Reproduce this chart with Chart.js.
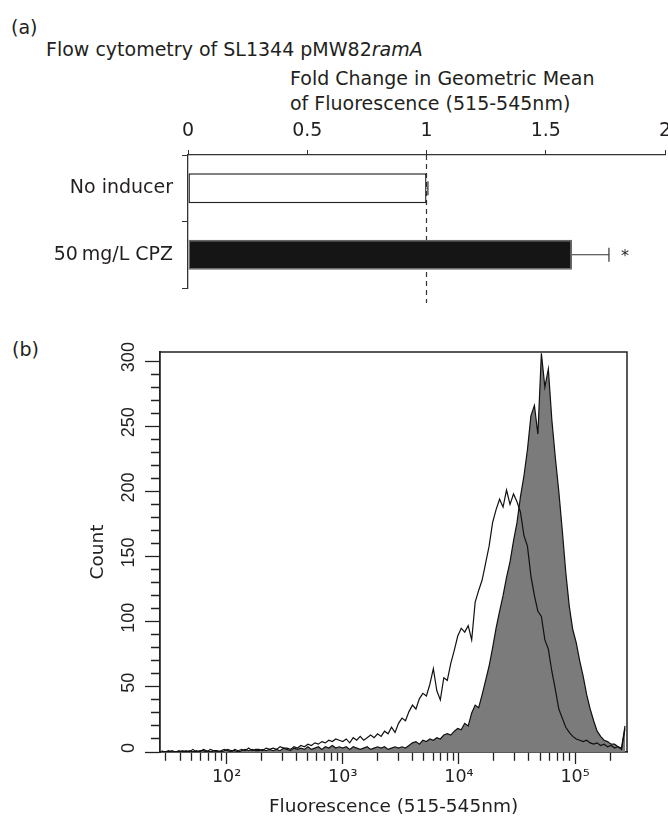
<!DOCTYPE html>
<html><head><meta charset="utf-8">
<script src="https://cdn.jsdelivr.net/npm/chart.js@4.4.1/dist/chart.umd.min.js"></script>
<style>
html,body{margin:0;padding:0;background:#fff;}
body{width:668px;height:821px;position:relative;overflow:hidden;font-family:"DejaVu Sans",sans-serif;color:#231f20;}
.t{position:absolute;white-space:nowrap;font-size:19px;line-height:19px;}
#ca{position:absolute;left:0;top:0;}
#cb{position:absolute;left:0;top:320px;}
</style></head>
<body>
<div class="t" style="left:11px;top:18px">(a)</div>
<div class="t" style="left:46px;top:40px">Flow cytometry of SL1344 pMW82<i>ramA</i></div>
<div class="t" style="left:290px;top:69px">Fold Change in Geometric Mean</div>
<div class="t" style="left:290px;top:94px">of Fluorescence (515-545nm)</div>
<div class="t" style="left:12px;top:340px">(b)</div>
<canvas id="ca" width="668" height="320"></canvas>
<canvas id="cb" width="668" height="501"></canvas>
<script>
// ---------- Panel (a) data ----------
const categories = ['No inducer', '50\u2009mg/L CPZ'];
const foldChange = [1.0, 1.61];
const foldError = [0.006, 0.155];
const significance = ['', '*'];
const referenceFold = 1;

// ---------- Panel (b) data ----------
const channelExp = [
  1.44,1.47,1.50,1.53,1.56,1.59,1.62,1.65,1.68,1.71,
  1.74,1.77,1.80,1.83,1.86,1.89,1.92,1.95,1.98,2.01,
  2.04,2.07,2.10,2.13,2.16,2.19,2.22,2.25,2.28,2.31,
  2.34,2.37,2.40,2.43,2.46,2.49,2.52,2.55,2.58,2.61,
  2.64,2.67,2.70,2.73,2.76,2.79,2.82,2.85,2.88,2.91,
  2.94,2.97,3.00,3.03,3.06,3.09,3.12,3.15,3.18,3.21,
  3.24,3.27,3.30,3.33,3.36,3.39,3.42,3.45,3.48,3.51,
  3.54,3.57,3.60,3.63,3.66,3.69,3.72,3.75,3.78,3.81,
  3.84,3.87,3.90,3.93,3.96,3.99,4.02,4.05,4.08,4.11,
  4.14,4.17,4.20,4.23,4.26,4.29,4.32,4.35,4.38,4.41,
  4.44,4.47,4.50,4.53,4.56,4.59,4.62,4.65,4.68,4.71,
  4.74,4.77,4.80,4.83,4.86,4.89,4.92,4.95,4.98,5.01,
  5.04,5.07,5.10,5.13,5.16,5.19,5.22,5.25,5.28,5.31,
  5.34,5.37,5.40,5.43
];
const countNoInducer = [
  0,0,1,0,0,1,0,1,0,2,
  0,1,1,0,2,1,0,1,2,1,
  0,2,1,2,1,3,1,2,2,1,
  3,2,3,2,4,3,3,2,4,3,
  5,4,6,5,7,6,8,7,9,8,
  10,9,8,10,7,11,9,12,9,11,
  13,11,14,12,16,14,19,15,22,26,
  24,31,36,33,41,45,43,52,64,47,
  40,57,55,68,78,89,95,92,97,86,
  115,124,132,145,158,176,186,194,188,201,
  190,198,192,184,166,158,135,120,108,104,
  86,79,62,48,33,26,19,15,12,10,
  9,8,9,7,6,7,5,6,4,5,
  3,4,2,18
];
const countCPZ = [
  1,0,0,1,0,0,1,0,1,0,
  1,0,2,1,0,1,1,0,1,2,
  1,1,0,1,2,1,2,1,1,2,
  1,2,1,2,1,3,2,1,3,2,
  3,2,4,2,3,4,2,4,3,5,
  3,4,3,4,2,4,3,2,3,4,
  2,3,4,3,4,2,3,4,3,4,
  3,5,7,8,6,9,8,10,9,11,
  10,13,14,13,16,18,17,22,20,30,
  36,34,44,55,66,80,95,108,120,134,
  146,162,176,196,212,232,258,266,244,306,
  280,294,255,226,200,170,138,112,94,84,
  70,58,44,33,24,16,12,9,8,6,
  6,4,3,20
];
const fluorTicks = [30,40,50,60,70,80,90,100,200,300,400,500,600,700,800,900,
  1000,2000,3000,4000,5000,6000,7000,8000,9000,10000,20000,30000,40000,50000,
  60000,70000,80000,90000,100000,200000];
const decadeLabels = {100:'10\u00B2', 1000:'10\u00B3', 10000:'10\u2074', 100000:'10\u2075'};
const fluorRange = [26.7, 280000];
const countRange = [0, 307];

const INK = '#231f20';

// ---------- Chart (a) ----------
const barAnnot = {
  id: 'barAnnot',
  beforeDatasetsDraw(chart) {
    const {ctx, scales: {x}, chartArea} = chart;
    const xp = x.getPixelForValue(referenceFold);
    ctx.save();
    ctx.strokeStyle = '#333';
    ctx.lineWidth = 1.2;
    ctx.setLineDash([5, 4]);
    ctx.beginPath();
    ctx.moveTo(xp, chartArea.top);
    ctx.lineTo(xp, chartArea.bottom + 15);
    ctx.stroke();
    ctx.restore();
  },
  afterDatasetsDraw(chart) {
    const {ctx, scales: {x, y}} = chart;
    ctx.save();
    ctx.strokeStyle = '#333';
    ctx.lineWidth = 1.2;
    foldChange.forEach((v, i) => {
      const yc = y.getPixelForValue(i);
      const x0 = x.getPixelForValue(v);
      const x1 = x.getPixelForValue(v + foldError[i]);
      ctx.beginPath();
      ctx.moveTo(x0, yc); ctx.lineTo(x1, yc);
      ctx.moveTo(x1, yc - 7); ctx.lineTo(x1, yc + 7);
      ctx.stroke();
      if (significance[i]) {
        ctx.fillStyle = INK;
        ctx.font = '16px "DejaVu Sans"';
        ctx.textAlign = 'left';
        ctx.textBaseline = 'middle';
        ctx.fillText(significance[i], x1 + 12, yc + 2);
      }
    });
    ctx.restore();
  }
};

new Chart(document.getElementById('ca'), {
  type: 'bar',
  data: {
    labels: categories,
    datasets: [{
      data: foldChange,
      backgroundColor: ['#ffffff', '#151515'],
      borderColor: ['#222', '#666'],
      borderWidth: 1.4,
      borderSkipped: false,
      barPercentage: 0.45,
      categoryPercentage: 1
    }]
  },
  options: {
    indexAxis: 'y',
    responsive: false,
    animation: false,
    devicePixelRatio: 1,
    layout: {padding: {left: 0, right: 3, top: 0, bottom: 32}},
    plugins: {legend: {display: false}, tooltip: {enabled: false}},
    scales: {
      x: {
        type: 'linear', position: 'top', min: 0, max: 2,
        ticks: {stepSize: 0.5, color: INK, font: {family: 'DejaVu Sans', size: 19}, padding: 8,
          callback: v => String(v)},
        grid: {drawOnChartArea: false, tickLength: 5, color: '#333'},
        border: {color: '#333', width: 1.3},
        afterFit: s => { s.height = 155; s.paddingLeft = 0; s.paddingRight = 0; }
      },
      y: {
        type: 'category',
        ticks: {color: INK, font: {family: 'DejaVu Sans', size: 19}, padding: 9},
        grid: {drawOnChartArea: false, offset: true, tickLength: 6, color: '#333'},
        border: {color: '#333', width: 1.3},
        afterFit: s => { s.width = 188; s.paddingTop = 0; s.paddingBottom = 0; }
      }
    }
  },
  plugins: [barAnnot]
});

// ---------- Chart (b) ----------
const frame = {
  id: 'frame',
  afterDraw(chart) {
    const {ctx, chartArea: a} = chart;
    ctx.save();
    ctx.strokeStyle = '#222';
    ctx.lineWidth = 1.5;
    ctx.beginPath();
    ctx.moveTo(a.left, a.top); ctx.lineTo(a.right, a.top); ctx.lineTo(a.right, a.bottom);
    ctx.stroke();
    ctx.restore();
  }
};

const toPoints = counts => channelExp.map((e, i) => ({x: Math.pow(10, e), y: counts[i]}));

new Chart(document.getElementById('cb'), {
  type: 'line',
  data: {
    datasets: [
      {label: 'No inducer', data: toPoints(countNoInducer), borderColor: '#111', borderWidth: 1.2,
       pointRadius: 0, fill: false, tension: 0},
      {label: '50 mg/L CPZ', data: toPoints(countCPZ), borderColor: '#111', borderWidth: 1.2,
       backgroundColor: '#7b7b7b', pointRadius: 0, fill: 'origin', tension: 0}
    ]
  },
  options: {
    responsive: false,
    animation: false,
    devicePixelRatio: 1,
    layout: {padding: {left: 0, right: 41, top: 32, bottom: 0}},
    plugins: {legend: {display: false}, tooltip: {enabled: false}, filler: {propagate: false}},
    scales: {
      x: {
        type: 'logarithmic', min: fluorRange[0], max: fluorRange[1],
        afterBuildTicks: s => { s.ticks = fluorTicks.map(v => ({value: v, major: !!decadeLabels[v]})); },
        ticks: {autoSkip: false, maxRotation: 0, color: INK, padding: 3,
          font: {family: 'DejaVu Sans', size: 17.5},
          callback: v => decadeLabels[v] || ''},
        grid: {drawOnChartArea: false, tickLength: 12, color: '#222', tickWidth: 1.3,
          tickBorderDash: c => (c.tick && decadeLabels[c.tick.value]) ? [] : [8, 40]},
        border: {color: '#222', width: 1.8},
        title: {display: true, text: 'Fluorescence (515-545nm)', color: INK,
          font: {family: 'DejaVu Sans', size: 18.5}, padding: {top: 4, bottom: 3}},
        afterFit: s => { s.height = 69; s.paddingLeft = 0; s.paddingRight = 0; }
      },
      y: {
        type: 'linear', min: countRange[0], max: countRange[1],
        ticks: {stepSize: 10, includeBounds: false, autoSkip: false, minRotation: 90, maxRotation: 90,
          crossAlign: 'center', padding: 1, labelOffset: -4, color: INK,
          font: {family: 'Liberation Sans', size: 18},
          callback: v => (v % 50 === 0 ? String(v) : '')},
        grid: {drawOnChartArea: false, tickLength: 15, color: '#222', tickWidth: 1.3,
          tickBorderDash: c => (c.tick && c.tick.value % 50 === 0) ? [] : [0, 6, 9, 40]},
        border: {color: '#222', width: 1.8},
        title: {display: true, text: 'Count', color: INK,
          font: {family: 'DejaVu Sans', size: 18.5}, padding: {top: 87, bottom: 0}},
        afterFit: s => { s.width = 160; s.paddingTop = 0; s.paddingBottom = 0; }
      }
    }
  },
  plugins: [frame]
});
</script>
</body></html>
